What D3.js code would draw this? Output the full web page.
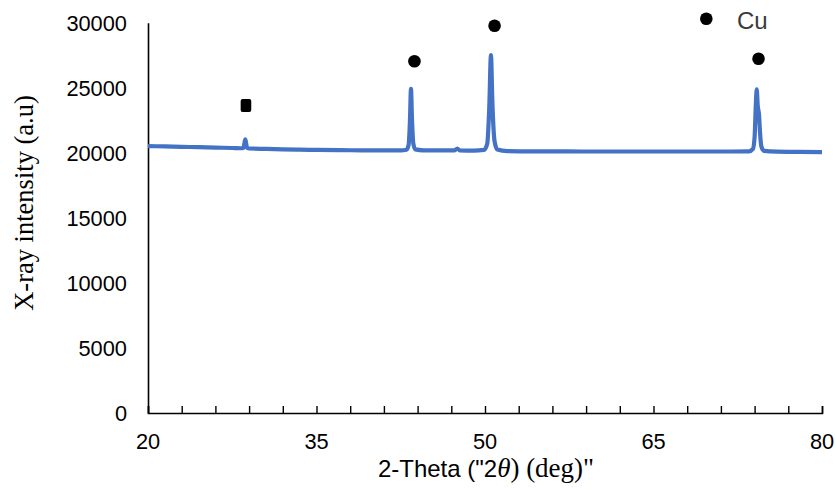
<!DOCTYPE html>
<html><head><meta charset="utf-8">
<script src="https://cdn.jsdelivr.net/npm/d3@7"></script>
<style>body{margin:0;background:#fff}</style>
</head><body>
<svg id="c" width="835" height="490"></svg>
<script>
const theta = [20.0,21.5,23.0,24.5,26.0,27.5,28.3,28.5,28.6,28.66,28.72,28.82,29.0,30.5,32.0,33.5,35.0,37.0,39.0,41.0,42.5,43.0,43.2,43.32,43.41,43.5,43.62,43.8,44.5,46.0,47.3,47.53,47.75,49.0,49.9,50.2,50.38,50.53,50.66,50.85,51.1,52.0,54.0,56.0,58.5,61.0,64.0,67.4,70.0,72.0,73.5,73.85,74.0,74.1,74.19,74.28,74.39,74.48,74.6,74.85,76.0,78.0,80.0];
const intensity = [20520,20490,20460,20430,20400,20370,20350,20380,20800,21040,20800,20380,20330,20300,20270,20240,20220,20200,20190,20180,20180,20230,20600,22500,24920,22600,20700,20260,20190,20180,20190,20330,20190,20170,20220,20700,23500,27510,23800,20900,20250,20130,20110,20110,20100,20100,20100,20100,20100,20100,20110,20300,21200,23500,24880,23600,22960,21600,20500,20150,20090,20070,20050];
const squareX = [28.72], squareY = [23640];
const cuX = [43.72, 50.85, 74.35], cuY = [27040, 29770, 27230];
const xTicks = [20, 35, 50, 65, 80];
const xMinor = d3.range(20, 80.01, 3);
const yTicks = [0, 5000, 10000, 15000, 20000, 25000, 30000];
const legendLabel = "Cu";

const svg = d3.select("#c");
const L = 148, R = 822, T = 22.7, B = 413;
const x = d3.scaleLinear().domain([20, 80]).range([L, R]);
const y = d3.scaleLinear().domain([0, 30000]).range([B, T]);
const sans = "'Liberation Sans', Arial, sans-serif";
const serif = "'Liberation Serif', 'Times New Roman', serif";

// axes
const xa = svg.append("g").attr("transform", `translate(0,${B})`)
  .call(d3.axisBottom(x).tickValues(xMinor).tickSize(-7).tickFormat(""));
xa.select(".domain").attr("stroke", "#000").attr("stroke-width", 1.6);
xa.selectAll(".tick line").attr("stroke", "#000").attr("stroke-width", 1.4);

const ya = svg.append("g").attr("transform", `translate(${L},0)`)
  .call(d3.axisLeft(y).tickValues(yTicks).tickSize(0).tickFormat(""));
ya.select(".domain").attr("stroke", "#000").attr("stroke-width", 1.6);

svg.append("g").selectAll("text").data(yTicks).join("text")
  .attr("x", 127).attr("y", d => y(d) + 7.8)
  .attr("text-anchor", "end").attr("font-family", sans).attr("font-size", 21.8)
  .attr("fill", "#000").text(d => d);

svg.append("g").selectAll("text").data(xTicks).join("text")
  .attr("x", d => x(d)).attr("y", 449)
  .attr("text-anchor", "middle").attr("font-family", sans).attr("font-size", 21.8)
  .attr("fill", "#000").text(d => d);

// line
const pts = theta.map((t, i) => [t, intensity[i]]);
svg.append("path").datum(pts)
  .attr("fill", "none").attr("stroke", "#4472C4").attr("stroke-width", 4.2)
  .attr("stroke-linejoin", "round")
  .attr("d", d3.line().x(d => x(d[0])).y(d => y(d[1])).curve(d3.curveMonotoneX));

// markers
svg.append("g").selectAll("rect").data(squareX).join("rect")
  .attr("x", (d) => x(d) - 5.3).attr("y", (d, i) => y(squareY[i]) - 6.5)
  .attr("width", 10.6).attr("height", 13).attr("rx", 2)
  .attr("fill", "#000");
svg.append("g").selectAll("circle").data(cuX).join("circle")
  .attr("cx", d => x(d)).attr("cy", (d, i) => y(cuY[i])).attr("r", 6.3)
  .attr("fill", "#000");

// legend
svg.append("circle").attr("cx", 706.3).attr("cy", 18.8).attr("r", 6.3).attr("fill", "#000");
svg.append("text").attr("x", 737).attr("y", 28.5).attr("font-family", sans)
  .attr("font-size", 24).attr("fill", "#3a3a3a").text(legendLabel);

// axis titles
svg.append("text").attr("transform", "translate(33,203) rotate(-90)")
  .attr("text-anchor", "middle").attr("font-family", serif).attr("font-size", 26.5)
  .attr("fill", "#000").text("X-ray intensity (a.u)");

const xt = svg.append("text").attr("x", 486).attr("y", 477).attr("text-anchor", "middle")
  .attr("fill", "#000");
xt.append("tspan").attr("font-family", sans).attr("font-size", 24).text('2-Theta ("2');
xt.append("tspan").attr("font-family", serif).attr("font-style", "italic").attr("font-size", 27).text("\u03B8");
xt.append("tspan").attr("font-family", serif).attr("font-size", 27).text(') (deg)"');
</script>
</body></html>
